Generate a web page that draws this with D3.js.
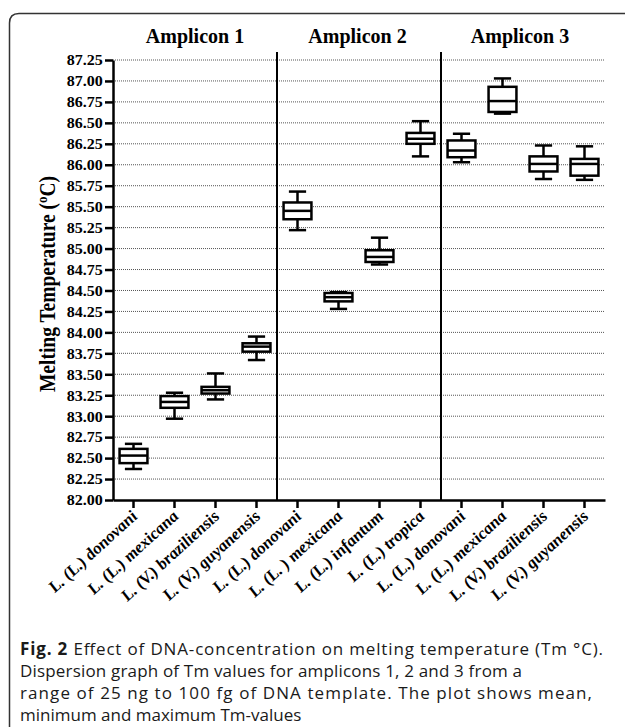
<!DOCTYPE html>
<html>
<head>
<meta charset="utf-8">
<script src="https://cdn.jsdelivr.net/npm/d3@7/dist/d3.min.js"></script>
<style>
  html, body { margin: 0; padding: 0; background: #fff; }
  svg { display: block; }
</style>
</head>
<body>
<svg id="chart" width="625" height="727"></svg>
<script>
// ---- data ----
const categories = [
  "L. (L.) donovani", "L. (L.) mexicana", "L. (V.) braziliensis", "L. (V.) guyanensis",
  "L. (L.) donovani", "L. (L. ) mexicana", "L. (L.) infantum", "L. (L.) tropica",
  "L. (L.) donovani", "L. (L.) mexicana", "L. (V.) braziliensis", "L. (V.) guyanensis"
];
const groupTitles = ["Amplicon 1", "Amplicon 2", "Amplicon 3"];
const maxVals  = [82.67, 83.28, 83.51, 83.95, 85.68, 84.48, 85.13, 86.52, 86.37, 87.03, 86.23, 86.22];
const q3Vals   = [82.61, 83.24, 83.35, 83.87, 85.55, 84.47, 84.98, 86.38, 86.29, 86.93, 86.10, 86.07];
const meanVals = [82.53, 83.17, 83.31, 83.83, 85.45, 84.42, 84.90, 86.31, 86.17, 86.76, 86.01, 86.01];
const q1Vals   = [82.44, 83.10, 83.27, 83.77, 85.35, 84.37, 84.84, 86.25, 86.09, 86.63, 85.92, 85.87];
const minVals  = [82.37, 82.97, 83.20, 83.67, 85.22, 84.28, 84.81, 86.10, 86.03, 86.61, 85.83, 85.82];
const yTickValues = [82.00, 82.25, 82.50, 82.75, 83.00, 83.25, 83.50, 83.75, 84.00, 84.25, 84.50,
                     84.75, 85.00, 85.25, 85.50, 85.75, 86.00, 86.25, 86.50, 86.75, 87.00, 87.25];
const yTitle = "Melting Temperature (";
const captionBold = "Fig. 2";
const captionLines = [
  " Effect of DNA-concentration on melting temperature (Tm \u00B0C).",
  "Dispersion graph of Tm values for amplicons 1, 2 and 3 from a",
  "range of 25 ng to 100 fg of DNA template. The plot shows mean,",
  "minimum and maximum Tm-values"
];

// ---- drawing ----
const svg = d3.select("#chart");
const serif = "'Liberation Serif', 'Times New Roman', serif";

// frame
svg.append("path")
  .attr("d", "M9.5,727 L9.5,23 Q9.5,13.5 19,13.5 L625,13.5")
  .attr("fill", "none").attr("stroke", "#333").attr("stroke-width", 1.5);

const pLeft = 113, pRight = 605, pTop = 60, pBottom = 500;
const x = d3.scaleBand().domain(d3.range(categories.length)).range([pLeft, pRight]);
const y = d3.scaleLinear().domain([82, 87.25]).range([pBottom, pTop]);

// gridlines
svg.append("g").selectAll("line")
  .data(yTickValues.filter(v => v > 82))
  .join("line")
  .attr("x1", pLeft).attr("x2", pRight)
  .attr("y1", d => y(d)).attr("y2", d => y(d))
  .attr("stroke", "#555").attr("stroke-width", 1)
  .attr("stroke-dasharray", "1,1");

// group dividers
[4, 8].forEach(i => {
  svg.append("line")
    .attr("x1", x(i)).attr("x2", x(i))
    .attr("y1", pTop - 8).attr("y2", pBottom)
    .attr("stroke", "#000").attr("stroke-width", 2);
});

// group titles
groupTitles.forEach((t, g) => {
  const cx = (x(g * 4) + x(g * 4 + 3) + x.bandwidth()) / 2;
  svg.append("text")
    .attr("x", cx - g * 1.5).attr("y", 43)
    .attr("text-anchor", "middle")
    .attr("font-family", serif).attr("font-weight", "bold").attr("font-size", 20)
    .text(t);
});

// left axis
const yAxis = svg.append("g")
  .attr("transform", `translate(${pLeft},0)`)
  .call(d3.axisLeft(y).tickValues(yTickValues).tickFormat(d3.format(".2f"))
    .tickSize(8).tickSizeOuter(0).tickPadding(2));
yAxis.select(".domain").attr("stroke-width", 2.5);
yAxis.selectAll(".tick line").attr("stroke-width", 2.5);
yAxis.selectAll(".tick text")
  .attr("font-family", serif).attr("font-weight", "bold").attr("font-size", 15).attr("fill", "#000")
  .attr("x", -9.5).attr("transform", "scale(1.07,1)");

// bottom axis
const xAxis = svg.append("g")
  .attr("transform", `translate(0,${pBottom})`)
  .call(d3.axisBottom(x).tickFormat(i => categories[i]).tickSize(8).tickSizeOuter(0));
xAxis.select(".domain").attr("stroke-width", 2.5);
xAxis.selectAll(".tick line").attr("stroke-width", 2.5);
xAxis.selectAll(".tick text")
  .attr("font-family", serif).attr("font-weight", "bold").attr("font-style", "italic")
  .attr("font-size", 16).attr("fill", "#000")
  .attr("text-anchor", "end")
  .attr("x", -9).attr("y", 10).attr("dy", "0.35em")
  .attr("transform", "scale(1.1,1) rotate(-45)");

// boxes
const bw = x.bandwidth();
const boxW = bw * 0.68, capW = bw * 0.42;
const boxes = svg.append("g").attr("fill", "none").attr("stroke", "#000").attr("stroke-width", 2.5);
categories.forEach((c, i) => {
  const cx = x(i) + bw / 2;
  const g = boxes.append("g");
  g.append("line").attr("x1", cx).attr("x2", cx).attr("y1", y(maxVals[i])).attr("y2", y(q3Vals[i]));
  g.append("line").attr("x1", cx).attr("x2", cx).attr("y1", y(q1Vals[i])).attr("y2", y(minVals[i]));
  g.append("line").attr("x1", cx - capW / 2).attr("x2", cx + capW / 2).attr("y1", y(maxVals[i])).attr("y2", y(maxVals[i]));
  g.append("line").attr("x1", cx - capW / 2).attr("x2", cx + capW / 2).attr("y1", y(minVals[i])).attr("y2", y(minVals[i]));
  g.append("rect").attr("x", cx - boxW / 2).attr("width", boxW)
    .attr("y", y(q3Vals[i])).attr("height", y(q1Vals[i]) - y(q3Vals[i]))
    .attr("fill", "#fff");
  g.append("line").attr("x1", cx - boxW / 2).attr("x2", cx + boxW / 2)
    .attr("y1", y(meanVals[i])).attr("y2", y(meanVals[i]));
});

// y title
const yt = svg.append("text")
  .attr("transform", `translate(55,284) scale(1.15,1) rotate(-90)`)
  .attr("text-anchor", "middle")
  .attr("font-family", serif).attr("font-weight", "bold").attr("font-size", 19.5);
yt.append("tspan").text(yTitle);
yt.append("tspan").attr("font-size", 13).attr("dy", -7).text("o");
yt.append("tspan").attr("dy", 7).text("C)");

// caption
const sans = "'Open Sans', 'Noto Sans', sans-serif";
const captionWidths = [583, 502, 572, null];
captionLines.forEach((line, k) => {
  const t = svg.append("text")
    .attr("x", 20).attr("y", 655 + k * 22)
    .attr("font-family", sans).attr("font-size", 17).attr("fill", "#1a1a1a");
  if (k === 0) t.append("tspan").attr("font-weight", "bold").text(captionBold);
  t.append("tspan").text(line);
  if (captionWidths[k]) t.attr("textLength", captionWidths[k]).attr("lengthAdjust", "spacing");
});
</script>
</body>
</html>
